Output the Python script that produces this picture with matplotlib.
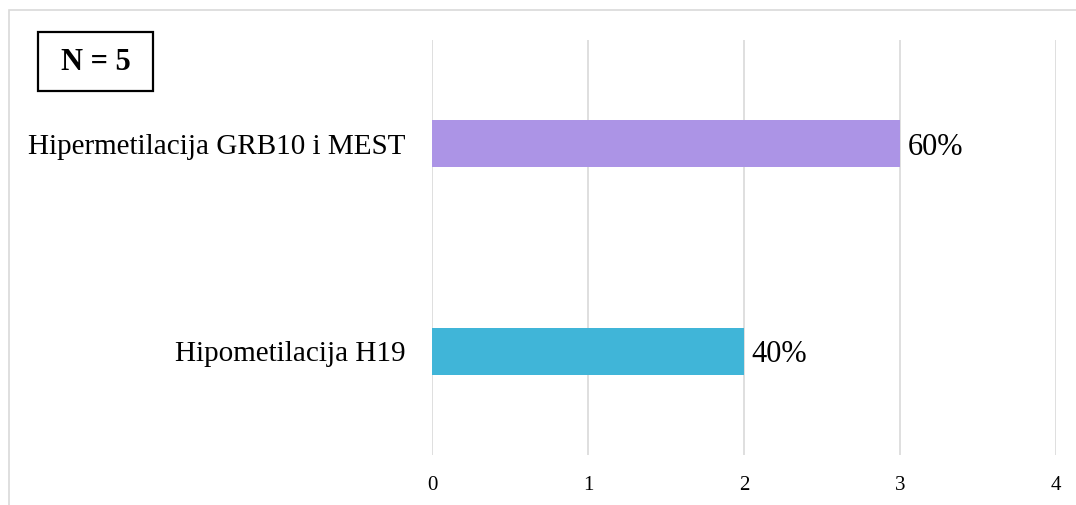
import matplotlib.pyplot as plt
from matplotlib.patches import Rectangle

# podaci
kategorije = ['Hipometilacija H19', 'Hipermetilacija GRB10 i MEST']
broj = [2, 3]
boje = ['#40B5D8', '#AC94E6']
N = 5

plt.rcParams['font.family'] = ['Liberation Serif', 'DejaVu Serif']

W, H = 1076, 505
fig = plt.figure(figsize=(W / 100, H / 100), dpi=100)
ax = fig.add_axes([432/W, 50/H, 624/W, 415/H])

y = range(len(kategorije))
ax.barh(y, broj, height=0.225, color=boje, zorder=3)
for yi, v in zip(y, broj):
    ax.text(v + 0.05, yi - 0.018, f'{v / N:.0%}', va='center', ha='left', fontsize=22, zorder=4)

ax.set_xlim(0, 4)
ax.set_ylim(-0.5, 1.5)
ax.set_xticks(range(0, 5))
ax.set_yticks(list(y))
ax.set_yticklabels(kategorije, fontsize=21)
ax.tick_params(axis='x', labelsize=15, length=0, pad=15)
ax.tick_params(axis='y', length=0, pad=19)
ax.grid(axis='x', color='#D9D9D9', lw=1.2, zorder=0)
for s in ax.spines.values():
    s.set_visible(False)

# okvir oko grafikona
fig.patches.append(Rectangle((9/W, -0.1), 1.1, 1.1 - 10/H, transform=fig.transFigure,
                             fill=False, ec='#D9D9D9', lw=1.2))

# oznaka broja pacijenata
fig.patches.append(Rectangle((38/W, 1 - 91/H), 115/W, 59/H, transform=fig.transFigure,
                             fc='white', ec='black', lw=1.6))
fig.text(95.5/W, 1 - 62/H, f'N = {N}', ha='center', va='center', fontsize=22, fontweight='bold')

fig.savefig('out.png')
